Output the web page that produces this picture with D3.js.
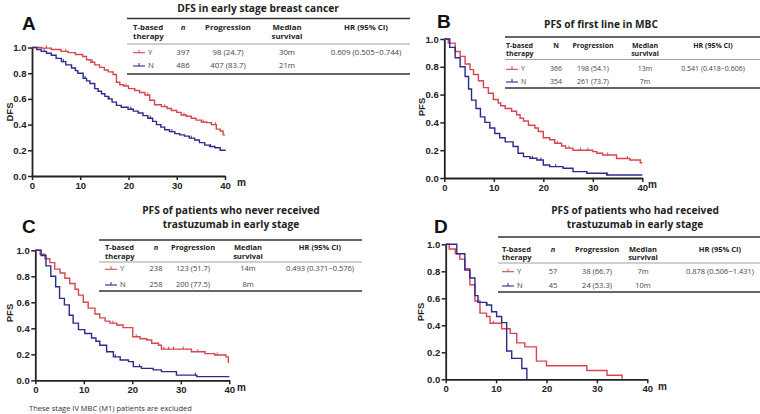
<!DOCTYPE html>
<html><head><meta charset="utf-8">
<script src="https://cdn.jsdelivr.net/npm/d3@7"></script>
<style>
html,body{margin:0;padding:0;background:#fff;}
svg{display:block;}
</style></head>
<body>
<svg id="chart" width="760" height="414"></svg>
<script>
// ---------- DATA ----------
const monthTicks = [0, 10, 20, 30, 40];
const survTicks = [0, 0.2, 0.4, 0.6, 0.8, 1.0];
const groups = ["Y", "N"];
const tableHeaders = ["T-based\ntherapy", "n", "Progression", "Median\nsurvival", "HR (95% CI)"];
const tableHeadersB = ["T-based\ntherapy", "N", "Progression", "Median\nsurvival", "HR (95% CI)"];

const panelTitles = {
  A: ["DFS in early stage breast cancer"],
  B: ["PFS of first line in MBC"],
  C: ["PFS of patients who never received", "trastuzumab in early stage"],
  D: ["PFS of patients who had received", "trastuzumab in early stage"]
};
const yLabels = {A: "DFS", B: "PFS", C: "PFS", D: "PFS"};

// table rows: group, n, progression, median, HR
const tableA = [["Y", "397", "98 (24.7)", "30m", "0.609 (0.505\u22120.744)"], ["N", "486", "407 (83.7)", "21m", ""]];
const tableB = [["Y", "366", "198 (54.1)", "13m", "0.541 (0.418\u22120.606)"], ["N", "354", "261 (73.7)", "7m", ""]];
const tableC = [["Y", "238", "123 (51.7)", "14m", "0.493 (0.371\u22120.576)"], ["N", "258", "200 (77.5)", "8m", ""]];
const tableD = [["Y", "57", "38 (66.7)", "7m", "0.878 (0.506\u22121.431)"], ["N", "45", "24 (53.3)", "10m", ""]];

// Kaplan-Meier step data (time in months, survival)
const aY_t = [0, 2, 4, 6, 7.5, 9, 10.5, 11.3, 12.2, 13, 14, 15, 15.8, 16.8, 17.5, 18.2, 19, 20, 21.3, 22.3, 23.4, 24.4, 25.4, 26.8, 28, 28.9, 30, 30.9, 32, 33, 34, 35.1, 36.2, 37.2, 38.2, 39, 39.6, 40];
const aY_s = [1.0, 0.995, 0.985, 0.97, 0.96, 0.945, 0.93, 0.905, 0.885, 0.865, 0.845, 0.825, 0.81, 0.79, 0.73, 0.71, 0.70, 0.68, 0.665, 0.65, 0.63, 0.59, 0.555, 0.54, 0.525, 0.51, 0.495, 0.475, 0.465, 0.45, 0.435, 0.42, 0.415, 0.40, 0.365, 0.35, 0.32, 0.32];
const aN_t = [0, 1, 1.9, 3, 4, 5, 6.1, 7, 8.2, 9, 9.5, 10.6, 11.3, 12, 13, 13.7, 14.4, 15.1, 15.8, 16.6, 17.5, 18.5, 19.9, 21, 22, 23, 24, 25, 25.8, 26.7, 27.5, 28.5, 29.6, 30.6, 31.6, 32.6, 33.7, 34.7, 35.8, 36.8, 37.9, 39, 40];
const aN_s = [1.0, 0.985, 0.97, 0.955, 0.94, 0.915, 0.89, 0.865, 0.84, 0.82, 0.80, 0.76, 0.74, 0.72, 0.68, 0.66, 0.64, 0.62, 0.60, 0.575, 0.55, 0.535, 0.52, 0.505, 0.49, 0.47, 0.45, 0.425, 0.40, 0.38, 0.36, 0.345, 0.33, 0.32, 0.31, 0.295, 0.28, 0.26, 0.24, 0.23, 0.22, 0.2, 0.195];
const bY_t = [0, 0.8, 2.2, 3.2, 4.2, 5.2, 5.9, 6.9, 7.9, 8.9, 9.9, 10.9, 11.4, 12.3, 13.6, 14.6, 15.3, 16, 17, 18.3, 19, 20, 21.3, 22.3, 23.7, 24.5, 26, 30, 30.8, 32, 34.8, 37.5, 39.6, 40];
const bY_s = [1.0, 0.97, 0.91, 0.875, 0.82, 0.78, 0.745, 0.70, 0.65, 0.61, 0.565, 0.54, 0.52, 0.50, 0.48, 0.455, 0.43, 0.41, 0.38, 0.36, 0.335, 0.29, 0.275, 0.25, 0.23, 0.215, 0.20, 0.19, 0.178, 0.166, 0.14, 0.13, 0.11, 0.11];
const bN_t = [0, 1.1, 2.2, 3.2, 4.2, 4.9, 5.5, 6.4, 7.3, 8.2, 9.2, 10.2, 11.2, 12.3, 13.9, 14.9, 16, 17.3, 18.7, 20, 21.3, 24, 26, 28.8, 32.8, 40];
const bN_s = [1.0, 0.94, 0.865, 0.80, 0.73, 0.64, 0.56, 0.50, 0.44, 0.40, 0.36, 0.32, 0.29, 0.26, 0.227, 0.178, 0.154, 0.142, 0.13, 0.094, 0.082, 0.07, 0.046, 0.034, 0.022, 0.022];
const cY_t = [0, 1, 2, 3, 4, 5.1, 6.1, 7.1, 8.2, 8.9, 9.9, 10.9, 12.3, 13.3, 14.4, 15.4, 16.8, 18.1, 20.1, 21.6, 23, 24, 25.4, 26, 32.2, 35, 37, 39.3, 39.8, 40];
const cY_s = [1.0, 0.97, 0.935, 0.905, 0.855, 0.825, 0.785, 0.745, 0.70, 0.655, 0.60, 0.555, 0.51, 0.48, 0.455, 0.44, 0.425, 0.405, 0.335, 0.32, 0.31, 0.285, 0.27, 0.24, 0.22, 0.205, 0.195, 0.18, 0.14, 0.14];
const cN_t = [0, 1.2, 2.2, 3.2, 4.2, 5, 6, 7, 7.8, 8.9, 10.2, 11.6, 12.5, 13.3, 14.7, 16.1, 17.5, 19.2, 20.2, 21.9, 24.3, 26, 29.1, 33.3, 40];
const cN_s = [1.0, 0.96, 0.88, 0.80, 0.72, 0.63, 0.58, 0.50, 0.44, 0.39, 0.36, 0.325, 0.30, 0.27, 0.22, 0.18, 0.156, 0.144, 0.105, 0.092, 0.08, 0.067, 0.04, 0.028, 0.028];
const dY_t = [0, 0.7, 1.9, 2.8, 3.8, 4.8, 5.8, 6.8, 8.1, 8.8, 11.1, 12.8, 14.1, 15.7, 18, 20, 28, 32, 35];
const dY_s = [1.0, 0.965, 0.93, 0.89, 0.82, 0.70, 0.58, 0.49, 0.465, 0.415, 0.375, 0.34, 0.27, 0.24, 0.135, 0.10, 0.065, 0.03, 0.0];
const dN_t = [0, 2.2, 3.8, 4.8, 5.8, 6.4, 8.1, 9.1, 10.1, 11.1, 12.1, 13.1, 15.1, 16.1];
const dN_s = [1.0, 0.93, 0.81, 0.75, 0.62, 0.57, 0.55, 0.50, 0.465, 0.42, 0.21, 0.155, 0.08, 0.0];

// censoring times
const aY_c = [3, 7, 12.5, 19.5, 24, 27.5, 31.5, 35.5, 38];
const aN_c = [2.5, 6.5, 11, 16, 20.5, 24.5, 29, 33, 37];
const bY_c = [22.8, 25.2, 27.5, 29, 33, 37];
const bN_c = [17.8, 19.5, 22.5, 33];
const cY_c = [16, 20.8, 26.5, 27.5, 28.5, 30.5, 33.5, 37.5];
const cN_c = [16.5, 21.5, 33];
const dY_c = [9.5];
const dN_c = [8.2];

// ---------- DRAW ----------
const RED = "#d64550", BLUE = "#2b2b8e";
const svg = d3.select("#chart");
const axisFont = "'Liberation Sans', Arial, sans-serif";
const textFont = "'Open Sans', 'Noto Sans', sans-serif";

const panels = [
  {key: "A", x: [32, 225], y: [176, 47.5], data: [[aY_t, aY_s, aY_c], [aN_t, aN_s, aN_c]], table: tableA, headers: tableHeaders,
   letter: [22, 30], titleX: 258, titleY: 12, yLab: [6, 112], mLab: [237, 186], fs: 7.8,
   tbl: {x0: 127, x1: 410, top: 18.5, h1: 26.5, h2: 36.3, sep: 44, r: [51.7, 65], bot: 74, cols: [133, 183, 228, 287, 366]}},
  {key: "B", x: [444.3, 642.3], y: [178, 39], data: [[bY_t, bY_s, bY_c], [bN_t, bN_s, bN_c]], table: tableB, headers: tableHeadersB,
   letter: [437, 28], titleX: 601, titleY: 28, yLab: [418, 107], mLab: [648, 188], fs: 7,
   tbl: {x0: 505, x1: 760, top: 37, h1: 45.6, h2: 53.6, sep: 59.5, r: [68.3, 81], bot: 88, cols: [506, 556, 593, 645, 713]}},
  {key: "C", x: [35.3, 229.3], y: [380.3, 250.3], data: [[cY_t, cY_s, cY_c], [cN_t, cN_s, cN_c]], table: tableC, headers: tableHeaders,
   letter: [22, 233], titleX: 231, titleY: 213.5, yLab: [6, 313], mLab: [237, 391], fs: 7.5,
   tbl: {x0: 99, x1: 362, top: 240, h1: 247.2, h2: 255.8, sep: 262, r: [268.3, 284], bot: 291, cols: [105, 156, 193, 248, 320]}},
  {key: "D", x: [445.7, 647.3], y: [379.3, 244.3], data: [[dY_t, dY_s, dY_c], [dN_t, dN_s, dN_c]], table: tableD, headers: tableHeaders,
   letter: [434, 233], titleX: 635, titleY: 213.5, yLab: [417, 312], mLab: [658, 390], fs: 7.5,
   tbl: {x0: 498, x1: 760, top: 237, h1: 248.6, h2: 257.2, sep: 263, r: [270.7, 285], bot: 292, cols: [502, 553, 597, 643, 720]}}
];

function survAt(t, times, surv) {
  let v = surv[0];
  for (let i = 0; i < times.length; i++) { if (times[i] <= t) v = surv[i]; }
  return v;
}

panels.forEach(p => {
  const g = svg.append("g");
  const x = d3.scaleLinear().domain([0, 40]).range(p.x);
  const y = d3.scaleLinear().domain([0, 1]).range(p.y);

  // axes
  const ax = g.append("g").attr("transform", `translate(0,${p.y[0]})`)
    .call(d3.axisBottom(x).tickValues(monthTicks).tickSize(4).tickSizeOuter(0).tickPadding(2));
  const ay = g.append("g").attr("transform", `translate(${p.x[0]},0)`)
    .call(d3.axisLeft(y).tickValues(survTicks).tickFormat(d3.format(".1f")).tickSize(4).tickSizeOuter(0).tickPadding(1.5));
  [ax, ay].forEach(a => {
    a.select(".domain").attr("stroke", "#222").attr("stroke-width", 1.8);
    a.selectAll(".tick line").attr("stroke", "#222").attr("stroke-width", 1.5);
    a.selectAll(".tick text").attr("fill", "#222").style("font-family", axisFont)
      .style("font-weight", "bold").style("font-size", "9.5px");
  });

  // curves
  const line = d3.line().x(d => x(d[0])).y(d => y(d[1])).curve(d3.curveStepAfter);
  p.data.forEach((ser, i) => {
    const col = i === 0 ? RED : BLUE;
    const pts = d3.zip(ser[0], ser[1]);
    g.append("path").datum(pts).attr("d", line).attr("fill", "none")
      .attr("stroke", col).attr("stroke-width", 1.4);
    g.selectAll(null).data(ser[2]).enter().append("line")
      .attr("x1", d => x(d)).attr("x2", d => x(d))
      .attr("y1", d => y(survAt(d, ser[0], ser[1])) - 2.5)
      .attr("y2", d => y(survAt(d, ser[0], ser[1])) + 0.5)
      .attr("stroke", col).attr("stroke-width", 1);
  });

  // letter, title, axis labels
  svg.append("text").attr("x", p.letter[0]).attr("y", p.letter[1]).text(p.key)
    .style("font-family", axisFont).style("font-weight", "bold").style("font-size", "19px").attr("fill", "#111");
  const title = svg.append("text").attr("x", p.titleX).attr("y", p.titleY).attr("text-anchor", "middle")
    .style("font-family", textFont).style("font-weight", "bold").style("font-size", "10.2px").attr("fill", "#222");
  panelTitles[p.key].forEach((t, i) => {
    title.append("tspan").attr("x", p.titleX).attr("dy", i === 0 ? 0 : 14).text(t);
  });
  svg.append("text").attr("transform", `translate(${p.yLab[0] + 3},${p.yLab[1]}) rotate(-90)`)
    .attr("text-anchor", "middle").attr("dominant-baseline", "central").text(yLabels[p.key])
    .style("font-family", axisFont).style("font-weight", "bold").style("font-size", "9.5px").attr("fill", "#222");
  svg.append("text").attr("x", p.mLab[0]).attr("y", p.mLab[1]).text("m")
    .style("font-family", axisFont).style("font-weight", "bold").style("font-size", "10px").attr("fill", "#222");

  // table
  const T = p.tbl;
  const fs = p.fs + "px";
  const tg = svg.append("g");
  tg.append("line").attr("x1", T.x0).attr("x2", T.x1).attr("y1", T.top).attr("y2", T.top).attr("stroke", "#333").attr("stroke-width", 1.4);
  tg.append("line").attr("x1", T.x0).attr("x2", T.x1).attr("y1", T.sep).attr("y2", T.sep).attr("stroke", "#777").attr("stroke-width", 0.7);
  tg.append("line").attr("x1", T.x0).attr("x2", T.x1).attr("y1", T.bot).attr("y2", T.bot).attr("stroke", "#333").attr("stroke-width", 1.4);
  p.headers.forEach((h, j) => {
    const lines = h.split("\n");
    const anchor = j === 0 ? "start" : "middle";
    const ys = lines.length === 2 ? [T.h1, T.h2] : [T.h1];
    lines.forEach((l, k) => {
      tg.append("text").attr("x", T.cols[j]).attr("y", ys[k]).attr("text-anchor", anchor)
        .attr("dominant-baseline", "central").text(l)
        .style("font-family", textFont).style("font-weight", "bold").style("font-size", fs)
        .style("font-style", (j === 1 && p.key !== "B") ? "italic" : "normal").attr("fill", "#222");
    });
  });
  p.table.forEach((row, r) => {
    const col = r === 0 ? RED : BLUE;
    const ry = T.r[r];
    const lx = T.cols[0];
    tg.append("line").attr("x1", lx).attr("x2", lx + 12).attr("y1", ry + 1).attr("y2", ry + 1).attr("stroke", col).attr("stroke-width", 1.1);
    tg.append("line").attr("x1", lx + 6).attr("x2", lx + 6).attr("y1", ry - 2).attr("y2", ry + 1).attr("stroke", col).attr("stroke-width", 1);
    tg.append("text").attr("x", lx + 15).attr("y", ry).attr("dominant-baseline", "central").text(row[0])
      .style("font-family", textFont).style("font-size", fs).attr("fill", "#444");
    row.slice(1).forEach((v, j) => {
      tg.append("text").attr("x", T.cols[j + 1]).attr("y", ry).attr("text-anchor", "middle")
        .attr("dominant-baseline", "central").text(v)
        .style("font-family", textFont).style("font-size", fs).attr("fill", "#444");
    });
  });
});

svg.append("text").attr("x", 29).attr("y", 411).text("These stage IV MBC (M1) patients are excluded")
  .style("font-family", textFont).style("font-size", "7.5px").attr("fill", "#333");
</script>
</body></html>
